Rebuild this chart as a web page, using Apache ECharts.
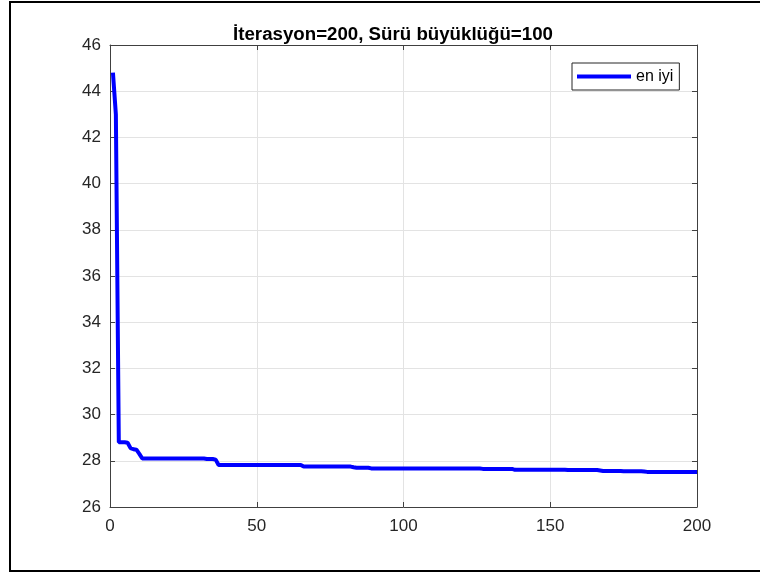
<!DOCTYPE html>
<html>
<head>
<meta charset="utf-8">
<script src="https://cdn.jsdelivr.net/npm/echarts@6/dist/echarts.min.js"></script>
<style>
  html, body { margin: 0; padding: 0; background: #fff; }
  #chart { width: 760px; height: 572px; }
</style>
</head>
<body>
<div id="chart"></div>
<script>
// Best cost found at each iteration (1..200) of the swarm optimisation run
const bestCost = [
  44.8, 43.0, 28.8, 28.8, 28.8, 28.78, 28.55, 28.5, 28.48, 28.3,
  28.1, 28.1, 28.1, 28.1, 28.1, 28.1, 28.1, 28.1, 28.1, 28.1,
  28.1, 28.1, 28.1, 28.1, 28.1, 28.1, 28.1, 28.1, 28.1, 28.1,
  28.1, 28.1, 28.08, 28.08, 28.08, 28.05, 27.82, 27.82, 27.82, 27.82,
  27.82, 27.82, 27.82, 27.82, 27.82, 27.82, 27.82, 27.82, 27.82, 27.82,
  27.82, 27.82, 27.82, 27.82, 27.82, 27.82, 27.82, 27.82, 27.82, 27.82,
  27.82, 27.82, 27.82, 27.82, 27.82, 27.75, 27.75, 27.75, 27.75, 27.75,
  27.75, 27.75, 27.75, 27.75, 27.75, 27.75, 27.75, 27.75, 27.75, 27.75,
  27.75, 27.75, 27.72, 27.7, 27.7, 27.7, 27.7, 27.7, 27.67, 27.67,
  27.67, 27.67, 27.67, 27.67, 27.67, 27.67, 27.67, 27.67, 27.67, 27.67,
  27.67, 27.67, 27.67, 27.67, 27.67, 27.67, 27.67, 27.67, 27.67, 27.67,
  27.67, 27.67, 27.67, 27.67, 27.67, 27.67, 27.67, 27.67, 27.67, 27.67,
  27.67, 27.67, 27.67, 27.67, 27.67, 27.67, 27.65, 27.65, 27.65, 27.65,
  27.65, 27.65, 27.65, 27.65, 27.65, 27.65, 27.65, 27.61, 27.61, 27.61,
  27.61, 27.61, 27.61, 27.61, 27.61, 27.61, 27.61, 27.61, 27.61, 27.61,
  27.61, 27.61, 27.61, 27.61, 27.61, 27.6, 27.6, 27.6, 27.6, 27.6,
  27.6, 27.6, 27.6, 27.6, 27.6, 27.6, 27.58, 27.56, 27.56, 27.56,
  27.56, 27.56, 27.56, 27.56, 27.55, 27.55, 27.55, 27.55, 27.55, 27.55,
  27.55, 27.54, 27.52, 27.52, 27.52, 27.52, 27.52, 27.52, 27.52, 27.52,
  27.52, 27.52, 27.52, 27.52, 27.52, 27.52, 27.52, 27.52, 27.52, 27.52
];
const xTicks = { min: 0, max: 200, interval: 50 };
const yTicks = { min: 26, max: 46, interval: 2 };
const titleText = 'İterasyon=200, Sürü büyüklüğü=100';
const seriesName = 'en iyi';

const points = bestCost.map((v, i) => [i + 1, v]);

const FONT = 'Liberation Sans, Arial, Helvetica, sans-serif';
const AXIS_COLOR = '#404040';
const GRID_COLOR = '#e3e3e3';

function boxAxis(range, position, primary) {
  return {
    type: 'value',
    position: position,
    min: range.min,
    max: range.max,
    interval: range.interval,
    axisLine: { show: true, onZero: false, lineStyle: { color: AXIS_COLOR, width: 1 } },
    axisTick: { show: true, inside: true, length: 5, lineStyle: { color: AXIS_COLOR, width: 1 } },
    axisLabel: primary
      ? { show: true, color: '#262626', fontSize: 17, fontFamily: FONT, margin: position === 'bottom' ? 11 : 9 }
      : { show: false },
    splitLine: primary
      ? { show: true, lineStyle: { color: GRID_COLOR, width: 1 } }
      : { show: false }
  };
}

const chart = echarts.init(document.getElementById('chart'), null, { renderer: 'canvas' });

chart.setOption({
  animation: false,
  backgroundColor: '#ffffff',
  title: {
    text: titleText,
    left: 388,
    top: 20,
    textAlign: 'center',
    textStyle: { fontSize: 18.7, fontWeight: 'bold', color: '#000', fontFamily: FONT }
  },
  grid: { left: 110, right: 63, top: 45, bottom: 65, containLabel: false },
  xAxis: [boxAxis(xTicks, 'bottom', true), boxAxis(xTicks, 'top', false)],
  yAxis: [boxAxis(yTicks, 'left', true), boxAxis(yTicks, 'right', false)],
  legend: {
    left: 572,
    top: 63,
    orient: 'vertical',
    padding: [5, 6, 5, 5],
    itemWidth: 54,
    itemHeight: 4,
    itemGap: 0,
    backgroundColor: '#fff',
    borderColor: '#262626',
    borderWidth: 1,
    borderRadius: 0,
    textStyle: { fontSize: 16, color: '#000', fontFamily: FONT, lineHeight: 17 },
    data: [{ name: seriesName, icon: 'rect', itemStyle: { color: '#0000ff' } }]
  },
  series: [{
    name: seriesName,
    type: 'line',
    data: points,
    showSymbol: false,
    symbol: 'none',
    lineStyle: { color: '#0000ff', width: 4 },
    itemStyle: { color: '#0000ff' },
    z: 5
  }],
  graphic: [{
    type: 'rect',
    shape: { x: 10, y: 2, width: 760, height: 569 },
    style: { fill: null, stroke: '#000', lineWidth: 2 },
    silent: true,
    z: 100
  }]
});
</script>
</body>
</html>
